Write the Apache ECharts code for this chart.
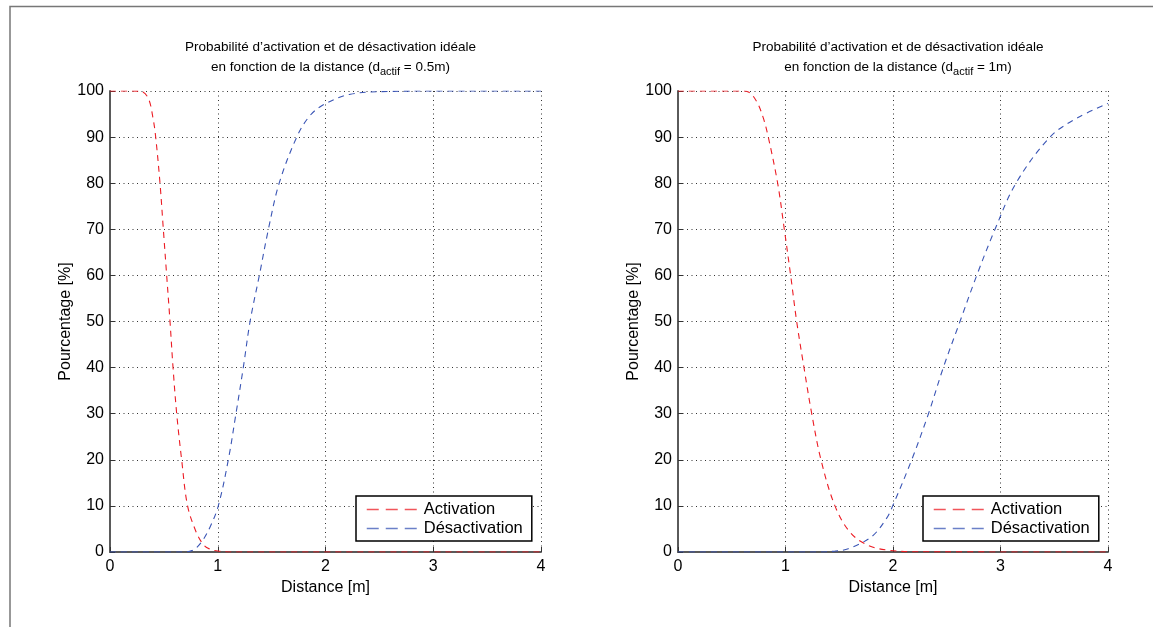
<!DOCTYPE html>
<html>
<head>
<meta charset="utf-8">
<script src="https://cdn.jsdelivr.net/npm/echarts@6/dist/echarts.min.js"></script>
<style>
html,body{margin:0;padding:0;background:#fff}
#main{width:1153px;height:627px}
</style>
</head>
<body>
<div id="main"></div>
<script>
// d_actif = 0.5m
var act1X = [0, 0.2, 0.29, 0.356, 0.40, 0.424, 0.464, 0.495, 0.526, 0.557, 0.585, 0.619, 0.665, 0.72, 0.80, 0.86, 0.91, 1.0, 1.2, 4]
var act1Y = [100, 100, 99.9, 98.4, 94, 90, 80, 70, 60, 50, 40, 30, 20, 10, 4.3, 1.8, 0.8, 0.2, 0, 0]
var des1X = [0, 0.65, 0.76, 0.85, 0.93, 1.005, 1.098, 1.169, 1.237, 1.30, 1.386, 1.47, 1.57, 1.733, 1.85, 1.98, 2.23, 2.6, 3, 4]
var des1Y = [0, 0, 0.3, 2.2, 5.5, 10, 20, 30, 40, 50, 60, 70, 80, 90, 94.5, 97, 99.3, 99.9, 100, 100]

// d_actif = 1m
var act2X = [0, 0.58, 0.654, 0.732, 0.794, 0.84, 0.927, 0.989, 1.048, 1.104, 1.172, 1.244, 1.33, 1.46, 1.6, 1.77, 1.956, 2.2, 4]
var act2Y = [100, 100, 99.8, 97.7, 94.1, 90, 80, 70, 60, 50, 40, 30, 20, 10, 4.3, 1.4, 0.4, 0.05, 0]
var des2X = [0, 1.3, 1.46, 1.584, 1.80, 1.94, 1.997, 2.174, 2.33, 2.468, 2.623, 2.779, 2.949, 3.144, 3.46, 3.71, 4]
var des2Y = [0, 0, 0.2, 0.7, 3.3, 7.3, 10, 20, 30, 40, 50, 60, 70, 80, 90, 94.1, 97.3]

var names = ['Activation', 'Désactivation']
var dActif = ['0.5m', '1m']

function pairs(xs, ys){
	var out = []
	for (var i = 0; i < xs.length; i++) out.push([xs[i], ys[i]])
	return out
}

var FONT = 'Liberation Sans'
var RED = '#ec1c24'
var BLUE = '#3a55b5'

function mkTitle(i, cx){
	return {
		text: '{a|Probabilité d’activation et de désactivation idéale}\n{a|en fonction de la distance (d}{s|actif}{a| = ' + dActif[i] + ')}',
		left: cx, top: 32, textAlign: 'center',
		textStyle: {
			rich: {
				a: {fontFamily: FONT, fontSize: 13.5, fontWeight: 'normal', color: '#000', lineHeight: 20},
				s: {fontFamily: FONT, fontSize: 11, fontWeight: 'normal', color: '#000', padding: [9, 0, 0, 0]}
			}
		}
	}
}

function mkX(i){
	return {
		type: 'value', gridIndex: i, min: 0, max: 4, interval: 1,
		name: 'Distance [m]', nameLocation: 'middle', nameGap: 26,
		nameTextStyle: {fontFamily: FONT, fontSize: 16, color: '#000'},
		axisLine: {onZero: false, lineStyle: {color: '#5a5a5a', width: 2}},
		axisTick: {inside: true, length: 5, lineStyle: {color: '#333'}},
		axisLabel: {fontFamily: FONT, fontSize: 16, color: '#000', margin: 7},
		splitLine: {show: true, lineStyle: {color: '#333', type: [1, 3.5], width: 1}}
	}
}

function mkY(i){
	return {
		type: 'value', gridIndex: i, min: 0, max: 100, interval: 10,
		name: 'Pourcentage [%]', nameLocation: 'middle', nameGap: 35,
		nameTextStyle: {fontFamily: FONT, fontSize: 16, color: '#000'},
		axisLine: {show: true, lineStyle: {color: '#5a5a5a', width: 2}},
		axisTick: {show: true, inside: true, length: 5, lineStyle: {color: '#333'}},
		axisLabel: {fontFamily: FONT, fontSize: 16, color: '#000', margin: 6},
		splitLine: {show: true, lineStyle: {color: '#333', type: [1, 3.5], width: 1}}
	}
}

function mkLine(name, i, data, color){
	return {
		name: name, type: 'line', xAxisIndex: i, yAxisIndex: i,
		data: data, symbol: 'none', smooth: 0.35,
		lineStyle: {color: color, width: 1.1, type: [6, 5]},
		itemStyle: {color: color},
		animation: false
	}
}

function mkLegend(left){
	return {
		data: names, orient: 'vertical', left: left, top: 496,
		backgroundColor: '#fff', borderColor: '#000', borderWidth: 1.5,
		padding: [5, 9, 4, 10], itemGap: 2, itemWidth: 52, itemHeight: 14,
		itemStyle: {opacity: 0},
		lineStyle: {type: [12, 7], width: 1.5, opacity: 0.75},
		textStyle: {fontFamily: FONT, fontSize: 16.5, color: '#000'},
		selectedMode: false
	}
}

var chart = echarts.init(document.getElementById('main'))
var option = {
	backgroundColor: '#fff',
	animation: false,
	title: [mkTitle(0, 325.5), mkTitle(1, 893)],
	grid: [
		{left: 110, top: 91, width: 431, height: 461},
		{left: 678, top: 91, width: 430, height: 461}
	],
	xAxis: [mkX(0), mkX(1)],
	yAxis: [mkY(0), mkY(1)],
	legend: [mkLegend(356), mkLegend(923)],
	series: [
		mkLine('Désactivation', 0, pairs(des1X, des1Y), BLUE),
		mkLine('Activation', 0, pairs(act1X, act1Y), RED),
		mkLine('Désactivation', 1, pairs(des2X, des2Y), BLUE),
		mkLine('Activation', 1, pairs(act2X, act2Y), RED)
	],
	graphic: [{
		type: 'polyline', silent: true,
		shape: {points: [[10, 627], [10, 6.5], [1153, 6.5]]},
		style: {stroke: '#777', lineWidth: 1.5, fill: null}
	}]
}
chart.setOption(option)
</script>
</body>
</html>
